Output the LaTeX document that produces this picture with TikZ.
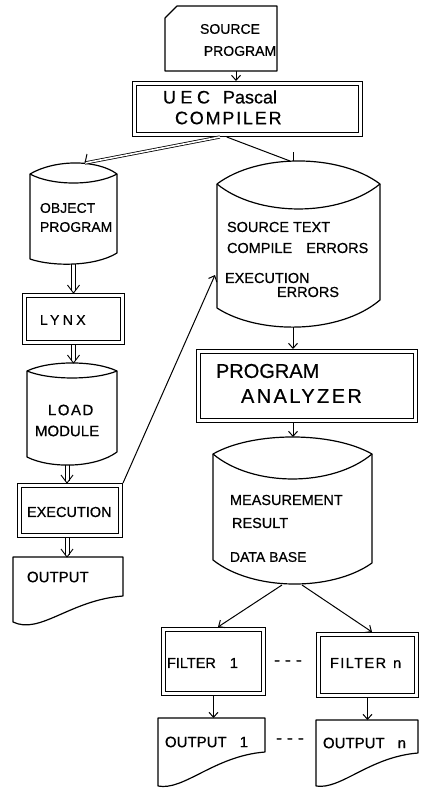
\documentclass[tikz,border=0pt]{standalone}
\usepackage{fontspec}
\setmainfont{Liberation Sans}[FakeBold=0.6]
\usetikzlibrary{arrows.meta,calc}
\newcommand{\dblarr}[2]{%
  \draw[dl] ($(#1)+(-2,0)$) -- ($(#1 |- #2)+(-2,-2.5)$);
  \draw[dl] ($(#1)+(2,0)$) -- ($(#1 |- #2)+(2,-2.5)$);
  \draw[dl] ($(#1 |- #2)+(-6,-8)$) -- (#1 |- #2) -- ($(#1 |- #2)+(6,-8)$);}
\begin{document}
\begin{tikzpicture}[x=1pt,y=-1pt,
  every node/.style={inner sep=0pt, outer sep=0pt},
  ghost/.style={rectangle, draw=none},
  dbox/.style={rectangle, draw, double, line width=1.2pt, double distance=2.4pt, outer sep=2.4pt},
  shp/.style={line width=1.2pt, line join=round},
  ln/.style={line width=1pt},
  arr/.style={line width=1pt, -{Straight Barb[length=5pt,width=9pt]}},
  dl/.style={line width=0.9pt, line join=round},
  lbl/.style={font=\fontsize{#1}{#1}\selectfont}]
\fill[white] (0,0) rectangle (420,789);
\useasboundingbox (0,0) rectangle (420,789);

% ---------- shape nodes (anchors) ----------
\node[ghost, minimum width=112pt, minimum height=65pt] (srcprog) at (221,38.5) {};
\node[dbox, minimum width=226.2pt, minimum height=51.2pt] (compiler) at (247.5,109) {};
\node[ghost, minimum width=87pt, minimum height=101pt] (objprog) at (73.5,213.5) {};
\node[ghost, minimum width=163pt, minimum height=166pt] (srctext) at (298.5,244) {};
\node[dbox, minimum width=98.2pt, minimum height=47.2pt] (lynx) at (73.5,319) {};
\node[ghost, minimum width=90pt, minimum height=102pt] (loadmod) at (72,414) {};
\node[dbox, minimum width=101.2pt, minimum height=50.2pt] (execution) at (70,510.5) {};
\node[ghost, minimum width=110pt, minimum height=68pt] (output) at (68,591) {};
\node[dbox, minimum width=217.2pt, minimum height=69.2pt] (analyzer) at (307,386) {};
\node[ghost, minimum width=159pt, minimum height=147pt] (measure) at (292.5,510.5) {};
\node[dbox, minimum width=100.2pt, minimum height=64.2pt] (filter1) at (213.5,661.5) {};
\node[dbox, minimum width=98.2pt, minimum height=61.2pt] (filtern) at (367.5,665) {};
\node[ghost, minimum width=107pt, minimum height=69pt] (output1) at (211.5,752.5) {};
\node[ghost, minimum width=102pt, minimum height=67pt] (outputn) at (367,753.5) {};

% ---------- outlines ----------
% punched card
\draw[shp] (165,18) -- (177,6) -- (277,6) -- (277,71) -- (165,71) -- cycle;
% object program
\draw[shp] (30,174) .. controls (55,159.3) and (97,159.3) .. (117,174)
  -- (117,253) .. controls (95,266.7) and (52,266.7) .. (30,259) -- cycle;
\draw[shp] (30,174) .. controls (51.75,186) and (95.25,186) .. (117,174);
% source text
\draw[shp] (217,184) .. controls (257.75,153.3) and (339.25,153.3) .. (380,184)
  -- (380,300) .. controls (339,334.7) and (258,334.7) .. (217,308) -- cycle;
\draw[shp] (217,184) .. controls (257.75,217.3) and (339.25,217.3) .. (380,184);
% load module
\draw[shp] (27,371) .. controls (49.5,360.3) and (94.5,360.3) .. (117,371)
  -- (117,452) .. controls (94.5,468.5) and (49.5,468.5) .. (27,457) -- cycle;
\draw[shp] (27,371) .. controls (49.5,380.3) and (94.5,380.3) .. (117,371);
% measurement result data base
\draw[shp] (213,454) .. controls (252.75,431.3) and (332.25,431.3) .. (372,454)
  -- (372,563) .. controls (332,591.5) and (253,591.5) .. (213,560) -- cycle;
\draw[shp] (213,454) .. controls (252.75,487.3) and (332.25,487.3) .. (372,454);
% documents
\draw[shp] (13,557) -- (123,557) -- (123,596) .. controls (70,600) and (40,635) .. (13,622) -- cycle;
\draw[shp] (158,718) -- (265,718) -- (265,752) .. controls (214,756) and (184,791) .. (158,786) -- cycle;
\draw[shp] (316,720) -- (418,720) -- (418,753) .. controls (369,757) and (341,790) .. (316,786) -- cycle;

% ---------- texts ----------
\node[lbl=14] (tsp1) at (230,29) {SOURCE};
\node[lbl=14] (tsp2) at (240,51) {PROGRAM};
\node[lbl=18, anchor=west] (tc1) at (163,97) {{\addfontfeature{LetterSpace=25}UEC}\hspace{13pt}Pascal};
\node[lbl=18, anchor=west] (tc2) at (175,118) {\addfontfeature{LetterSpace=10}COMPILER};
\node[lbl=14, anchor=west] (to1) at (40,208) {OBJECT};
\node[lbl=14, anchor=west] (to2) at (40,227) {PROGRAM};
\node[lbl=14.5, anchor=west] (ts1) at (227,227) {SOURCE TEXT};
\node[lbl=14.5, anchor=west] (ts2) at (227,248) {COMPILE\hspace{14pt}ERRORS};
\node[lbl=14.5, anchor=west] (ts3) at (225,278) {EXECUTION};
\node[lbl=14.5, anchor=west] (ts4) at (277,292) {ERRORS};
\node[lbl=14, anchor=west] (tl) at (40,320) {\addfontfeature{LetterSpace=24}LYNX};
\node[lbl=15, anchor=west] (tlm1) at (48,410) {\addfontfeature{LetterSpace=10}LOAD};
\node[lbl=15, anchor=west] (tlm2) at (35,431) {MODULE};
\node[lbl=14.5, anchor=west] (te) at (27,512) {EXECUTION};
\node[lbl=15, anchor=west] (tout) at (27,577) {OUTPUT};
\node[lbl=20, anchor=west] (ta1) at (216,371) {PROGRAM};
\node[lbl=20, anchor=west] (ta2) at (241,396) {\addfontfeature{LetterSpace=12}ANALYZER};
\node[lbl=14.5, anchor=west] (tm1) at (230,500) {MEASUREMENT};
\node[lbl=14.5, anchor=west] (tm2) at (232,523) {RESULT};
\node[lbl=14, anchor=west] (tm3) at (230,557) {DATA BASE};
\node[lbl=14.5, anchor=west] (tf1) at (167,663) {FILTER\hspace{14pt}1};
\node[lbl=14.5, anchor=west] (tfn) at (330,663) {\addfontfeature{LetterSpace=10}FILTER\hspace{7pt}n};
\node[lbl=15, anchor=west] (tox1) at (165,742) {OUTPUT\hspace{13pt}1};
\node[lbl=15, anchor=west] (toxn) at (323,743) {OUTPUT\hspace{13pt}n};
\node[lbl=18] (dash1) at (288,663) {-\kern5pt-\kern5pt-};
\node[lbl=18] (dash2) at (290,741) {-\kern5pt-\kern5pt-};

% ---------- connectors ----------
\draw[arr] ($(srcprog.south)+(15,0)$) -- ($(compiler.north)+(-11.5,0)$);
\draw[line width=0.8pt, double, double distance=1.6pt]
  ($(compiler.south west)!0.38!(compiler.south east)$) -- ($(objprog.north)+(11.5,0)$);
\draw[ln] ($(objprog.north)+(13.5,-9)$) -- ($(objprog.north)+(11.5,0)$);
\draw[ln] ($(compiler.south west)!0.41!(compiler.south east)$) -- ($(srctext.north)+(-8.5,0)$);
\draw[ln] ($(srctext.north)+(-5.5,-9)$) -- ($(srctext.north)+(-5.5,0)$);
\draw[arr] ($(srctext.south)+(-5.5,0)$) -- ($(analyzer.north)+(-14,0)$);
\draw[arr] ($(analyzer.south)+(-14,0)$) -- ($(measure.north)+(0.5,0)$);
\draw[arr] ($(measure.south)+(-10.5,1)$) -- ($(filter1.north)+(4.5,0)$);
\draw[arr] ($(measure.south)+(9.5,1)$) -- ($(filtern.north)+(4.5,0)$);
\draw[arr] (filter1.south) -- (filter1.south |- output1.north);
\draw[arr] (filtern.south) -- (filtern.south |- outputn.north);
\draw[arr] (execution.north east) -- ($(srctext.north west)+(-2,114)$);

\coordinate (d3) at ($(loadmod.south)+(-5,0)$);
\coordinate (d4) at ($(execution.south)+(-3,0)$);
\dblarr{objprog.south}{lynx.north}
\dblarr{lynx.south}{loadmod.north}
\dblarr{d3}{execution.north}
\dblarr{d4}{output.north}
\end{tikzpicture}
\end{document}
